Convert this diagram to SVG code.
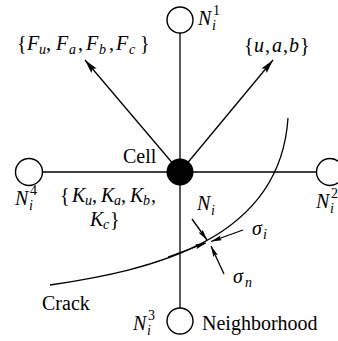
<svg xmlns="http://www.w3.org/2000/svg" width="338" height="341" viewBox="0 0 338 341">
<defs>
<style>
.ln{stroke:#000;stroke-width:1.3;fill:none}
.nb{fill:#fff;stroke:#000;stroke-width:1.4}
.t{font-family:'Liberation Serif',serif;font-size:20px;fill:#000}
.i{font-style:italic}
.s{font-size:14px}
</style>
<marker id="ah" viewBox="0 0 14 7" refX="14" refY="3.5" markerWidth="14" markerHeight="7" orient="auto" markerUnits="userSpaceOnUse"><path d="M0,0 L14,3.5 L0,7 L2.5,3.5 z" fill="#000"/></marker>
<marker id="as" viewBox="0 0 11 5" refX="11" refY="2.5" markerWidth="11" markerHeight="5" orient="auto" markerUnits="userSpaceOnUse"><path d="M0,0 L11,2.5 L0,5 L2,2.5 z" fill="#000"/></marker>
</defs>
<rect width="338" height="341" fill="#fff"/>
<g id="connectors">
<line class="ln" x1="180" y1="33" x2="180" y2="308"/>
<line class="ln" x1="43" y1="172" x2="316" y2="172"/>
<line class="ln" x1="180" y1="172" x2="85" y2="60" marker-end="url(#ah)"/>
<line class="ln" x1="180" y1="172" x2="273" y2="60" marker-end="url(#ah)"/>
</g>
<g id="crack">
<path class="ln" d="M50,285 C150,270 280,242 288,118"/>
<line class="ln" x1="168" y1="257" x2="206" y2="243" marker-end="url(#as)"/>
<line class="ln" x1="243" y1="230" x2="211" y2="241.5" marker-end="url(#as)"/>
<line class="ln" x1="192" y1="219" x2="207" y2="240" marker-end="url(#as)"/>
<line class="ln" x1="224" y1="274" x2="211" y2="246" marker-end="url(#as)"/>
<text class="t" x="42" y="310">Crack</text>
<text class="t i" x="197" y="210">N<tspan class="s" x="211" y="215">i</tspan></text>
<text class="t i" x="252" y="235">σ<tspan class="s" x="263" y="239">i</tspan></text>
<text class="t i" x="233" y="283">σ<tspan class="s" x="245" y="287">n</tspan></text>
</g>
<g id="cell">
<circle cx="180" cy="172" r="13.5" fill="#000"/>
<text class="t" x="123" y="163">Cell</text>
<text class="t"><tspan x="17" y="50">{</tspan><tspan class="i" x="27" y="50">F</tspan><tspan class="i s" x="39" y="54">u</tspan><tspan x="46" y="50">,</tspan><tspan class="i" x="56" y="50">F</tspan><tspan class="i s" x="69" y="54">a</tspan><tspan x="78" y="50">,</tspan><tspan class="i" x="86" y="50">F</tspan><tspan class="i s" x="99" y="54">b</tspan><tspan x="109" y="50">,</tspan><tspan class="i" x="116" y="50">F</tspan><tspan class="i s" x="129" y="54">c</tspan><tspan x="140" y="50">}</tspan></text>
<text class="t"><tspan x="244" y="52">{</tspan><tspan class="i" x="254" y="52">u</tspan><tspan x="265" y="52">,</tspan><tspan class="i" x="272" y="52">a</tspan><tspan x="283" y="52">,</tspan><tspan class="i" x="289" y="52">b</tspan><tspan x="300" y="52">}</tspan></text>
<text class="t"><tspan x="60" y="202">{</tspan><tspan class="i" x="72" y="202">K</tspan><tspan class="i s" x="85" y="205">u</tspan><tspan x="92" y="202">,</tspan><tspan class="i" x="101" y="202">K</tspan><tspan class="i s" x="114" y="205">a</tspan><tspan x="121" y="202">,</tspan><tspan class="i" x="130" y="202">K</tspan><tspan class="i s" x="143" y="205">b</tspan><tspan x="151" y="202">,</tspan></text>
<text class="t"><tspan class="i" x="90" y="226">K</tspan><tspan class="i s" x="103" y="229">c</tspan><tspan x="110" y="226">}</tspan></text>
</g>
<g id="n1">
<circle class="nb" cx="180" cy="20" r="13"/>
<text class="t i" x="198" y="25">N<tspan class="s" x="212" y="30">i</tspan><tspan class="s" style="font-style:normal" x="213" y="15">1</tspan></text>
</g>
<g id="n2">
<circle class="nb" cx="330" cy="172" r="13.5"/>
<text class="t i" x="316" y="208">N<tspan class="s" x="330" y="213">i</tspan><tspan class="s" style="font-style:normal" x="331" y="198">2</tspan></text>
</g>
<g id="n3">
<circle class="nb" cx="180" cy="321" r="13"/>
<text class="t i" x="133" y="330">N<tspan class="s" x="147" y="335">i</tspan><tspan class="s" style="font-style:normal" x="148" y="320">3</tspan></text>
<text class="t" x="202" y="330">Neighborhood</text>
</g>
<g id="n4">
<circle class="nb" cx="29" cy="172" r="13.5"/>
<text class="t i" x="15" y="205">N<tspan class="s" x="29" y="210">i</tspan><tspan class="s" style="font-style:normal" x="30" y="195">4</tspan></text>
</g>
</svg>
